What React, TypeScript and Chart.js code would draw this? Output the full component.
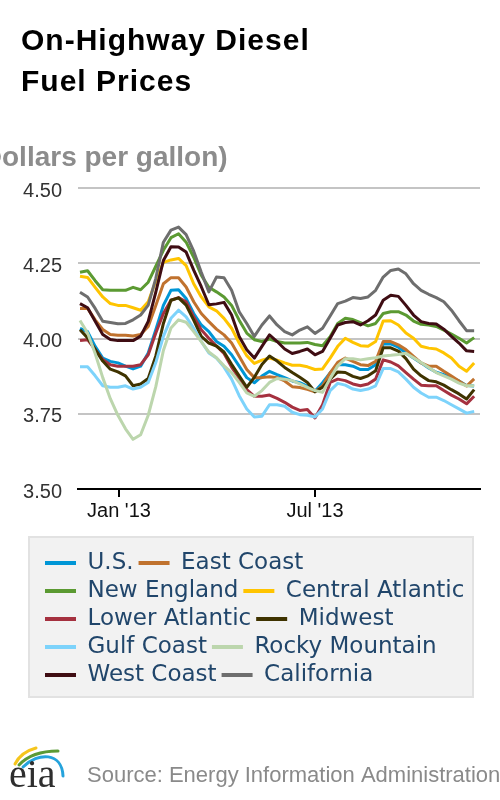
import React, { useEffect, useRef } from 'react';
import { Chart, registerables } from 'chart.js';

Chart.register(...registerables);

const weeks = [
  '2012-11-26', '2012-12-03', '2012-12-10', '2012-12-17', '2012-12-24', '2012-12-31',
  '2013-01-07', '2013-01-14', '2013-01-21', '2013-01-28',
  '2013-02-04', '2013-02-11', '2013-02-18', '2013-02-25',
  '2013-03-04', '2013-03-11', '2013-03-18', '2013-03-25',
  '2013-04-01', '2013-04-08', '2013-04-15', '2013-04-22', '2013-04-29',
  '2013-05-06', '2013-05-13', '2013-05-20', '2013-05-27',
  '2013-06-03', '2013-06-10', '2013-06-17', '2013-06-24',
  '2013-07-01', '2013-07-08', '2013-07-15', '2013-07-22', '2013-07-29',
  '2013-08-05', '2013-08-12', '2013-08-19', '2013-08-26',
  '2013-09-02', '2013-09-09', '2013-09-16', '2013-09-23', '2013-09-30',
  '2013-10-07', '2013-10-14', '2013-10-21', '2013-10-28',
  '2013-11-04', '2013-11-11', '2013-11-18', '2013-11-25',
];

const usPrices = [
  4.034, 4.023, 3.974, 3.935, 3.924, 3.919, 3.908, 3.899, 3.908, 3.952,
  4.029, 4.110, 4.160, 4.162, 4.133, 4.083, 4.045, 4.023, 3.990, 3.974,
  3.946, 3.908, 3.870, 3.853, 3.875, 3.891, 3.880, 3.870, 3.859, 3.853,
  3.842, 3.825, 3.853, 3.886, 3.913, 3.913, 3.908, 3.897, 3.897, 3.913,
  3.982, 3.982, 3.971, 3.952, 3.935, 3.919, 3.902, 3.888, 3.880, 3.870,
  3.859, 3.844, 3.842,
];
const eastCoast = [
  4.100, 4.100, 4.062, 4.030, 4.013, 4.011, 4.011, 4.008, 4.013, 4.040,
  4.110, 4.182, 4.202, 4.202, 4.171, 4.122, 4.083, 4.056, 4.031, 4.012,
  3.985, 3.941, 3.897, 3.870, 3.870, 3.873, 3.870, 3.859, 3.840, 3.837,
  3.831, 3.823, 3.842, 3.886, 3.921, 3.935, 3.924, 3.913, 3.910, 3.924,
  3.990, 3.990, 3.979, 3.963, 3.941, 3.919, 3.908, 3.908, 3.891, 3.875,
  3.859, 3.842, 3.866,
];
const newEngland = [
  4.220, 4.225, 4.192, 4.162, 4.160, 4.160, 4.160, 4.170, 4.162, 4.187,
  4.240, 4.293, 4.335, 4.348, 4.320, 4.270, 4.210, 4.170, 4.155, 4.138,
  4.110, 4.061, 4.018, 3.996, 3.990, 3.998, 3.990, 3.985, 3.985, 3.985,
  3.987, 3.980, 3.976, 4.006, 4.050, 4.067, 4.063, 4.053, 4.042, 4.050,
  4.083, 4.089, 4.089, 4.078, 4.058, 4.047, 4.045, 4.040, 4.028, 4.015,
  4.001, 3.985, 4.003,
];
const centralAtlantic = [
  4.207, 4.203, 4.170, 4.138, 4.116, 4.110, 4.110, 4.102, 4.094, 4.122,
  4.190, 4.253, 4.261, 4.266, 4.242, 4.182, 4.138, 4.105, 4.092, 4.067,
  4.034, 3.985, 3.943, 3.917, 3.928, 3.935, 3.928, 3.919, 3.911, 3.911,
  3.906, 3.897, 3.899, 3.935, 3.974, 4.001, 3.987, 3.976, 3.974, 3.990,
  4.058, 4.059, 4.045, 4.018, 4.001, 3.974, 3.968, 3.965, 3.952, 3.935,
  3.908, 3.891, 3.919,
];
const lowerAtlantic = [
  3.993, 3.996, 3.963, 3.930, 3.913, 3.908, 3.908, 3.908, 3.913, 3.946,
  4.018, 4.083, 4.127, 4.136, 4.122, 4.072, 4.029, 4.001, 3.975, 3.950,
  3.905, 3.868, 3.830, 3.808, 3.808, 3.812, 3.801, 3.788, 3.772, 3.761,
  3.764, 3.736, 3.780, 3.854, 3.865, 3.860, 3.849, 3.843, 3.849, 3.865,
  3.929, 3.922, 3.909, 3.887, 3.865, 3.845, 3.843, 3.843, 3.827, 3.812,
  3.799, 3.783, 3.808,
];
const midwest = [
  4.029, 4.002, 3.964, 3.925, 3.898, 3.889, 3.876, 3.843, 3.849, 3.867,
  3.942, 4.050, 4.127, 4.135, 4.111, 4.061, 4.007, 3.985, 3.975, 3.955,
  3.914, 3.876, 3.838, 3.871, 3.914, 3.942, 3.925, 3.904, 3.887, 3.871,
  3.854, 3.823, 3.838, 3.865, 3.889, 3.887, 3.874, 3.867, 3.876, 3.893,
  3.969, 3.969, 3.958, 3.933, 3.898, 3.876, 3.860, 3.856, 3.845, 3.830,
  3.816, 3.799, 3.830,
];
const gulfCoast = [
  3.906, 3.906, 3.876, 3.843, 3.838, 3.838, 3.843, 3.832, 3.838, 3.854,
  3.920, 4.007, 4.067, 4.094, 4.072, 4.034, 3.990, 3.952, 3.935, 3.905,
  3.865, 3.810, 3.766, 3.739, 3.742, 3.780, 3.780, 3.775, 3.755, 3.747,
  3.745, 3.739, 3.766, 3.827, 3.851, 3.845, 3.832, 3.827, 3.832, 3.843,
  3.900, 3.900, 3.889, 3.865, 3.838, 3.819, 3.805, 3.805, 3.794, 3.780,
  3.766, 3.752, 3.758,
];
const rockyMountain = [
  4.060, 4.018, 3.950, 3.870, 3.800, 3.745, 3.700, 3.665, 3.680, 3.745,
  3.840, 3.960, 4.035, 4.062, 4.054, 4.023, 3.990, 3.955, 3.936, 3.909,
  3.887, 3.854, 3.819, 3.808, 3.827, 3.854, 3.867, 3.865, 3.860, 3.849,
  3.838, 3.827, 3.821, 3.867, 3.909, 3.933, 3.933, 3.929, 3.933, 3.936,
  3.942, 3.944, 3.947, 3.951, 3.936, 3.920, 3.904, 3.887, 3.876, 3.865,
  3.852, 3.843, 3.843,
];
const westCoast = [
  4.116, 4.102, 4.057, 4.013, 3.997, 3.993, 3.993, 3.993, 4.008, 4.057,
  4.154, 4.259, 4.305, 4.304, 4.287, 4.227, 4.172, 4.112, 4.115, 4.120,
  4.078, 4.007, 3.963, 3.935, 3.974, 4.012, 3.990, 3.965, 3.950, 3.957,
  3.965, 3.946, 3.957, 4.001, 4.045, 4.053, 4.056, 4.045, 4.059, 4.078,
  4.127, 4.144, 4.140, 4.110, 4.078, 4.056, 4.050, 4.048, 4.031, 4.007,
  3.985, 3.959, 3.957,
];
const california = [
  4.154, 4.138, 4.100, 4.057, 4.053, 4.049, 4.050, 4.062, 4.078, 4.111,
  4.200, 4.320, 4.360, 4.370, 4.345, 4.290, 4.220, 4.155, 4.204, 4.202,
  4.160, 4.089, 4.050, 4.007, 4.045, 4.075, 4.045, 4.023, 4.012, 4.028,
  4.039, 4.017, 4.034, 4.075, 4.116, 4.124, 4.136, 4.133, 4.138, 4.160,
  4.204, 4.226, 4.231, 4.215, 4.182, 4.160, 4.147, 4.136, 4.122, 4.094,
  4.059, 4.026, 4.026,
];

const seriesNames = [
  'U.S.', 'East Coast', 'New England', 'Central Atlantic', 'Lower Atlantic',
  'Midwest', 'Gulf Coast', 'Rocky Mountain', 'West Coast', 'California',
];
const seriesValues = [
  usPrices, eastCoast, newEngland, centralAtlantic, lowerAtlantic,
  midwest, gulfCoast, rockyMountain, westCoast, california,
];
const seriesColors = [
  '#0096d6', '#c0722e', '#5b9a32', '#ffc400', '#a5313f',
  '#3f3300', '#7dd3fb', '#bcd6ad', '#3f0d13', '#6e6e6e',
];

const xTickDates = ['2013-01-01', '2013-07-01'];
const xTickLabels = ["Jan '13", "Jul '13"];
const yTickValues = [3.5, 3.75, 4.0, 4.25, 4.5];

const DAY = 86400000;
const t0 = Date.parse(weeks[0]);
const dayOf = (d: string) => (Date.parse(d) - t0) / DAY;

const LEGEND_LEFT = 40;

const decorPlugin = {
  id: 'decor',
  beforeDraw(chart: any) {
    const { ctx, legend } = chart;
    if (!legend) return;
    legend.left = LEGEND_LEFT;
    legend.width = legend.right - LEGEND_LEFT;
    const x = legend.left - 11;
    const y = legend.top - 9.5;
    const w = legend.width + 4;
    const h = legend.height + 10;
    ctx.save();
    ctx.fillStyle = '#f2f2f2';
    ctx.fillRect(x, y, w, h);
    ctx.strokeStyle = '#e2e2e2';
    ctx.lineWidth = 2;
    ctx.strokeRect(x, y, w, h);
    ctx.restore();
  },
  afterDraw(chart: any) {
    const { ctx } = chart;
    ctx.save();
    ctx.textAlign = 'left';
    ctx.textBaseline = 'alphabetic';
    // Title
    ctx.fillStyle = '#000';
    ctx.font = 'bold 30px "Liberation Sans", Arial, sans-serif';
    try { (ctx as any).letterSpacing = '1px'; } catch (e) { /* ignore */ }
    ctx.fillText('On-Highway Diesel', 21, 50);
    ctx.fillText('Fuel Prices', 21, 91);
    try { (ctx as any).letterSpacing = '0px'; } catch (e) { /* ignore */ }
    // Axis title (clipped on the left in the original)
    ctx.fillStyle = '#8c8c8c';
    ctx.font = 'bold 28px "Liberation Sans", Arial, sans-serif';
    const off = ctx.measureText('(D').width;
    ctx.fillText('(Dollars per gallon)', 2 - off, 166);
    // Source
    ctx.fillStyle = '#8a8a8a';
    ctx.font = '22px "Liberation Sans", Arial, sans-serif';
    ctx.fillText('Source: Energy Information Administration', 87, 782);
    // Logo
    ctx.lineCap = 'round';
    ctx.lineWidth = 3;
    ctx.strokeStyle = '#f5c51c';
    ctx.beginPath();
    ctx.moveTo(15, 764);
    ctx.quadraticCurveTo(21, 752, 36, 748);
    ctx.stroke();
    ctx.strokeStyle = '#5b9a35';
    ctx.beginPath();
    ctx.moveTo(19, 765);
    ctx.quadraticCurveTo(32, 751, 58, 751);
    ctx.stroke();
    ctx.strokeStyle = '#25a3dc';
    ctx.beginPath();
    ctx.moveTo(23, 767);
    ctx.bezierCurveTo(38, 752, 62, 752, 63, 776);
    ctx.stroke();
    ctx.fillStyle = '#2e2e2e';
    ctx.font = '40px "Liberation Serif", "DejaVu Serif", serif';
    ctx.fillText('eia', 9, 787);
    ctx.restore();
  },
};

export default function App() {
  const ref = useRef<HTMLCanvasElement>(null);

  useEffect(() => {
    if (!ref.current) return;
    const datasets = seriesNames.map((name, i) => ({
      label: name,
      data: weeks.map((d, j) => ({ x: dayOf(d), y: seriesValues[i][j] })),
      borderColor: seriesColors[i],
      backgroundColor: seriesColors[i],
      borderWidth: 3,
      pointRadius: 0,
      pointHoverRadius: 0,
      tension: 0,
      fill: false,
      borderJoinStyle: 'round' as const,
      order: -i,
    }));

    const chart = new Chart(ref.current, {
      type: 'line',
      data: { datasets },
      plugins: [decorPlugin],
      options: {
        responsive: false,
        animation: false,
        layout: { padding: { left: 20, right: 20, top: 188, bottom: 103.5 } },
        plugins: {
          title: { display: false },
          tooltip: { enabled: false },
          legend: {
            display: true,
            position: 'bottom',
            align: 'start',
            labels: {
              boxWidth: 31,
              boxHeight: 4,
              padding: 5,
              color: '#21466b',
              font: { family: '"DejaVu Sans", Verdana, sans-serif', size: 23 },
              sort: (a: any, b: any) => a.datasetIndex - b.datasetIndex,
              generateLabels: (c: any) =>
                (Chart.defaults.plugins.legend.labels.generateLabels as any)(c).map((l: any) => ({
                  ...l,
                  lineWidth: 0,
                  fillStyle: seriesColors[l.datasetIndex],
                })),
            },
          },
        },
        scales: {
          x: {
            type: 'linear',
            min: -1.85,
            max: 369.4,
            afterFit: (s: any) => { s.height = 57.5; },
            afterBuildTicks: (s: any) => {
              s.ticks = xTickDates.map((d) => ({ value: dayOf(d) }));
            },
            ticks: {
              padding: 2,
              color: '#111',
              font: { family: '"Liberation Sans", Arial, sans-serif', size: 20 },
              callback: (v: any) => {
                const k = xTickDates.findIndex((d) => Math.abs(dayOf(d) - v) < 0.01);
                return k >= 0 ? xTickLabels[k] : '';
              },
              maxRotation: 0,
              autoSkip: false,
            },
            grid: {
              display: true,
              drawOnChartArea: false,
              drawTicks: true,
              tickLength: 8,
              color: '#000',
              lineWidth: 2,
            },
            border: { display: true, color: '#000', width: 2 },
          },
          y: {
            type: 'linear',
            min: 3.5,
            max: 4.5,
            afterFit: (s: any) => { s.width = 58; },
            afterBuildTicks: (s: any) => {
              s.ticks = yTickValues.map((v) => ({ value: v }));
            },
            ticks: {
              padding: 16,
              labelOffset: 3,
              color: '#333',
              font: { family: '"Liberation Sans", Arial, sans-serif', size: 20 },
              callback: (v: any) => Number(v).toFixed(2),
            },
            grid: {
              drawTicks: false,
              color: (c: any) => (c.tick && c.tick.value === 3.5 ? 'rgba(0,0,0,0)' : '#c4c4c4'),
              lineWidth: 2,
            },
            border: { display: false },
          },
        },
      },
    });
    return () => chart.destroy();
  }, []);

  return (
    <div style={{ position: 'absolute', left: 0, top: 0, width: 500, height: 800, background: '#fff' }}>
      <canvas ref={ref} width={500} height={800} style={{ width: 500, height: 800, display: 'block' }} />
    </div>
  );
}
